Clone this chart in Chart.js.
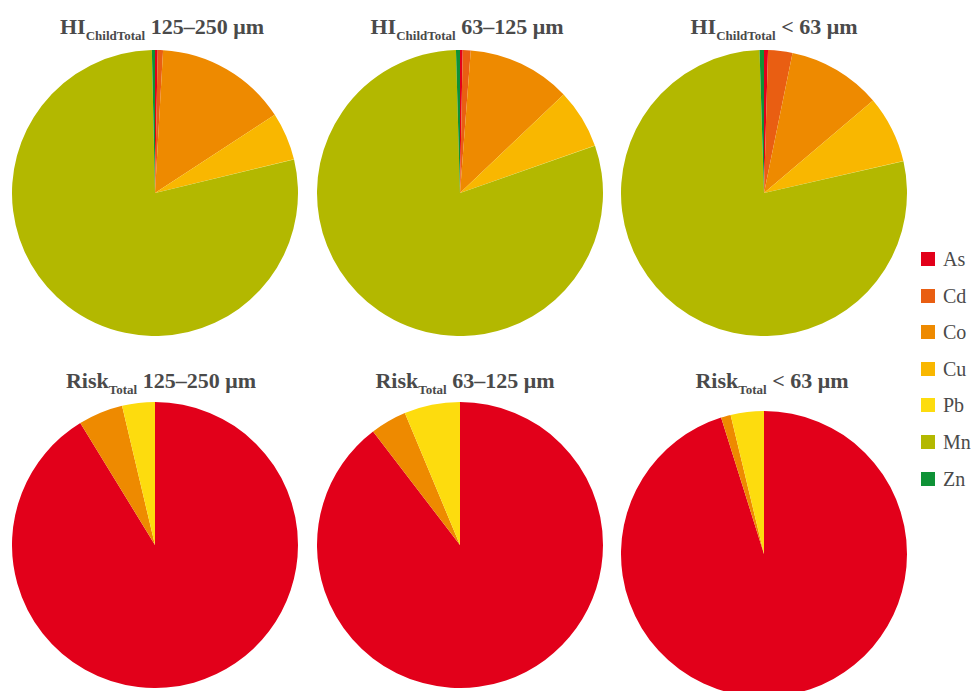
<!DOCTYPE html>
<html>
<head>
<meta charset="utf-8">
<script src="https://cdn.jsdelivr.net/npm/chart.js@4"></script>
<style>
  html, body { margin:0; padding:0; background:#fff; }
  body { width:975px; height:691px; position:relative; overflow:hidden; font-family:"Liberation Serif","DejaVu Serif",serif; }
  .pie { position:absolute; width:286px; height:286px; }
  .title { position:absolute; transform:translateX(-50%); white-space:nowrap; color:#4a4a4a; font-family:"Liberation Serif",serif; font-weight:bold; font-size:22px; line-height:1; }
  .title sub { font-size:13px; vertical-align:-6px; line-height:0; }
  .legend { position:absolute; left:921px; top:248px; font-family:"Liberation Serif",serif; }
  .legend .item { position:relative; height:36.6px; font-size:20px; color:#4a4a4a; }
  .legend .sw { position:absolute; left:0; top:4px; width:14px; height:14px; }
  .legend .lbl { position:absolute; left:22px; top:0; line-height:22px; font-family:"Liberation Serif",serif; }
</style>
</head>
<body>
<div id="root"></div>
<script>
// ---- data ----
const elements = ["As", "Cd", "Co", "Cu", "Pb", "Mn", "Zn"];
const colors = ["#e2001a", "#e95e12", "#ee8a00", "#f9b700", "#fddc0e", "#b3b800", "#0e9236"];

const hiChild125_250 = [0.3, 0.6, 14.9, 5.4, 0.05, 78.4, 0.35];
const hiChild63_125  = [0.3, 0.9, 11.7, 6.7, 0.05, 79.9, 0.45];
const hiChildLt63    = [0.45, 2.75, 10.6, 7.6, 0.05, 78.05, 0.5];
const risk125_250    = [91.25, 0, 5.05, 0, 3.7, 0, 0];
const risk63_125     = [89.6, 0, 4.1, 0, 6.3, 0, 0];
const riskLt63       = [95.15, 0, 1.1, 0, 3.75, 0, 0];

const titleMain = ["HI", "HI", "HI", "Risk", "Risk", "Risk"];
const titleSub  = ["ChildTotal", "ChildTotal", "ChildTotal", "Total", "Total", "Total"];
const titleRange = ["125–250 μm", "63–125 μm", "< 63 μm", "125–250 μm", "63–125 μm", "< 63 μm"];

// ---- layout ----
const series = [hiChild125_250, hiChild63_125, hiChildLt63, risk125_250, risk63_125, riskLt63];
const pieBoxes = [[12,50],[317,50],[621,50],[12,402],[317,402],[621,411]];
const titlePos = [[162,16],[467,16],[774,16],[161,370],[465,370],[772,370]];

const root = document.getElementById('root');
series.forEach((vals, i) => {
  const t = document.createElement('div');
  t.className = 'title';
  t.style.left = titlePos[i][0] + 'px';
  t.style.top = titlePos[i][1] + 'px';
  t.innerHTML = titleMain[i] + '<sub>' + titleSub[i] + '</sub> ' + titleRange[i];
  root.appendChild(t);

  const box = document.createElement('div');
  box.className = 'pie';
  box.style.left = pieBoxes[i][0] + 'px';
  box.style.top = pieBoxes[i][1] + 'px';
  const c = document.createElement('canvas');
  box.appendChild(c);
  root.appendChild(box);

  new Chart(c, {
    type: 'pie',
    data: {
      labels: elements,
      datasets: [{ data: vals, backgroundColor: colors, borderWidth: 0, hoverOffset: 0 }]
    },
    options: {
      responsive: true,
      maintainAspectRatio: false,
      animation: false,
      layout: { padding: 0 },
      plugins: { legend: { display: false }, tooltip: { enabled: false }, title: { display: false } }
    }
  });
});

const leg = document.createElement('div');
leg.className = 'legend';
elements.forEach((e, i) => {
  const it = document.createElement('div');
  it.className = 'item';
  it.innerHTML = '<div class="sw" style="background:' + colors[i] + '"></div><div class="lbl">' + e + '</div>';
  leg.appendChild(it);
});
root.appendChild(leg);
</script>
</body>
</html>
